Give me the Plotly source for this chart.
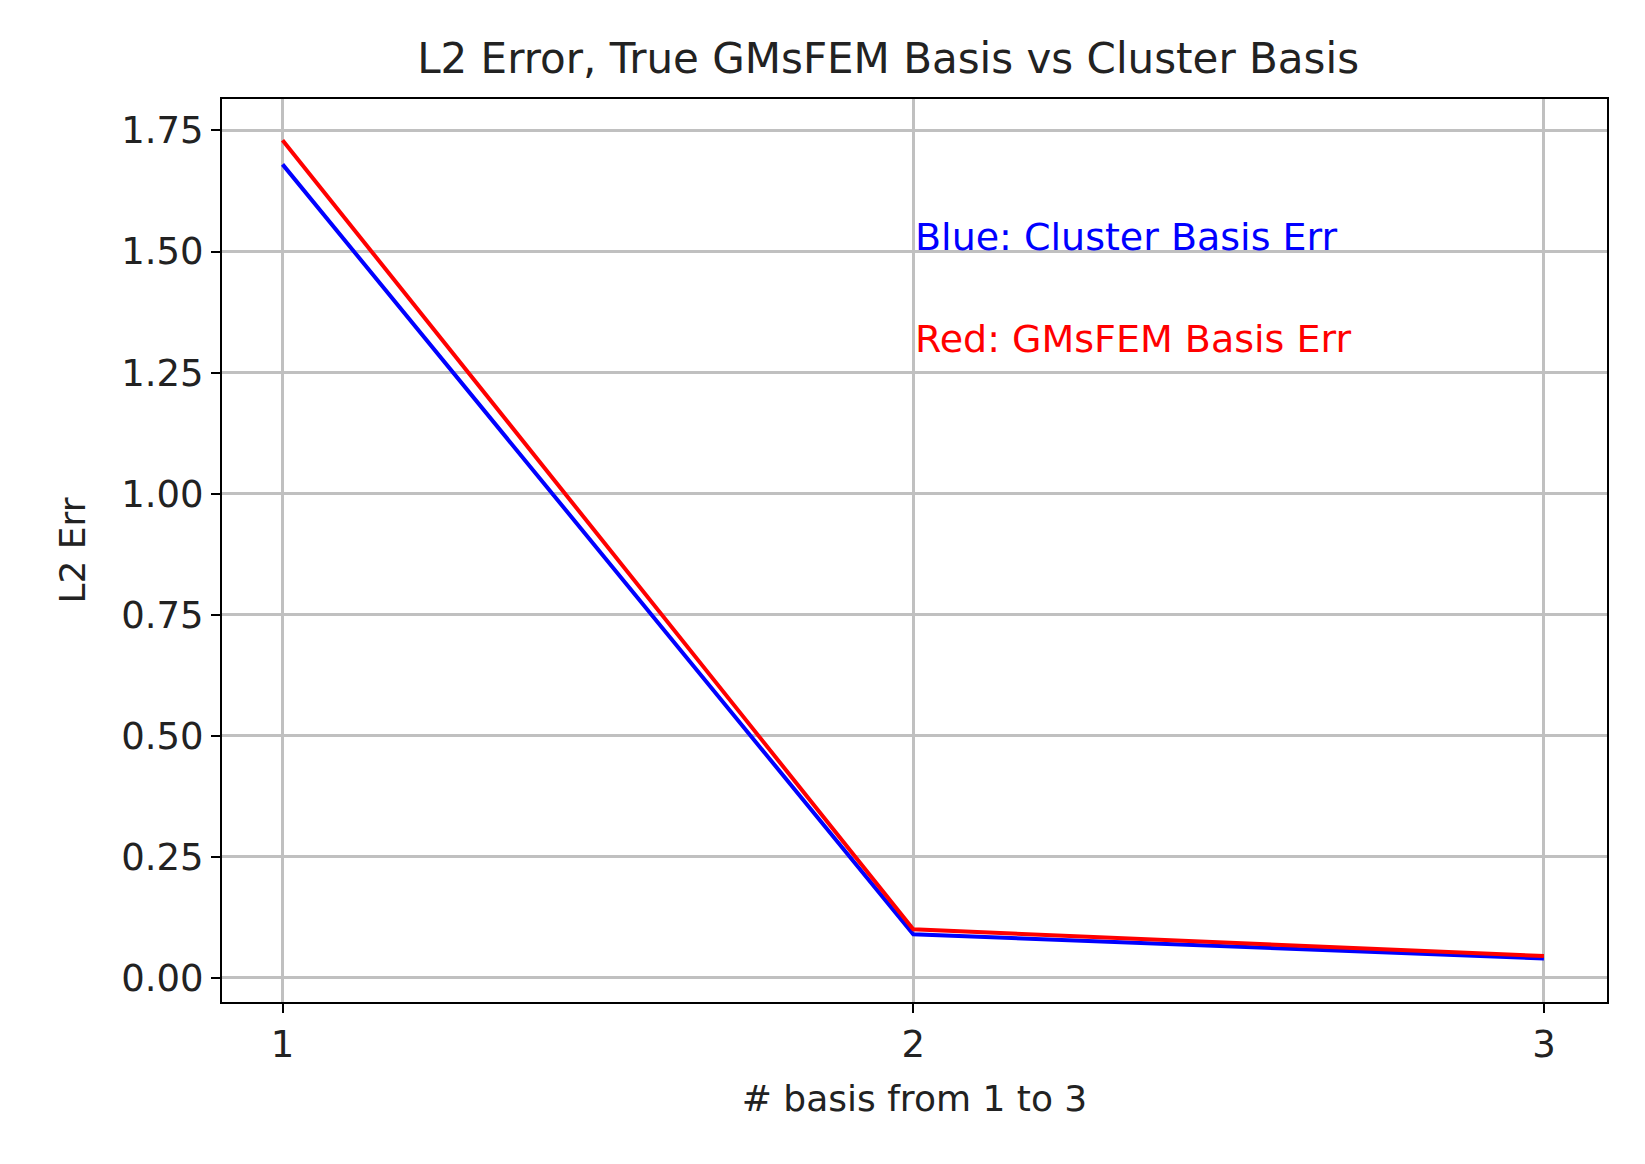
import plotly.graph_objects as go

x = [1, 2, 3]
blue_err = [1.68, 0.09, 0.04]
red_err = [1.73, 0.10, 0.045]
yticks = [0.0, 0.25, 0.5, 0.75, 1.0, 1.25, 1.5, 1.75]
ylabels = ["0.00", "0.25", "0.50", "0.75", "1.00", "1.25", "1.50", "1.75"]

fig = go.Figure()
fig.add_trace(go.Scatter(x=x, y=blue_err, mode="lines", line=dict(color="blue", width=4)))
fig.add_trace(go.Scatter(x=x, y=red_err, mode="lines", line=dict(color="red", width=4)))
fig.add_annotation(x=2, y=1.53, text="Blue: Cluster Basis Err", showarrow=False, xanchor="left",
                   font=dict(color="blue", size=38))
fig.add_annotation(x=2, y=1.32, text="Red: GMsFEM Basis Err", showarrow=False, xanchor="left",
                   font=dict(color="red", size=38))
ax = dict(showline=True, linecolor="black", linewidth=2, mirror=True, gridcolor="#c0c0c0", gridwidth=2.5,
          ticks="outside", ticklen=9, tickwidth=2, tickcolor="black", zeroline=False,
          tickfont=dict(size=37, color="#222"))
fig.update_layout(
    width=1645, height=1164, showlegend=False,
    plot_bgcolor="white", paper_bgcolor="white",
    font=dict(family="DejaVu Sans", color="#222"),
    margin=dict(l=214, r=1645-1599, t=91, b=1164-994),
    title=dict(text="L2 Error, True GMsFEM Basis vs Cluster Basis", x=0.535, xanchor="center",
               y=1-50/1164, yanchor="middle", font=dict(size=42)),
    xaxis=dict(ax, range=[0.904, 3.10], tickvals=x, ticktext=["1", "2", "3"],
               title=dict(text="# basis from 1 to 3", font=dict(size=36), standoff=20)),
    yaxis=dict(ax, range=[-0.05, 1.815], tickvals=yticks, ticktext=ylabels,
               title=dict(text="L2 Err", font=dict(size=36), standoff=25)),
)
fig.write_html("out.html")
